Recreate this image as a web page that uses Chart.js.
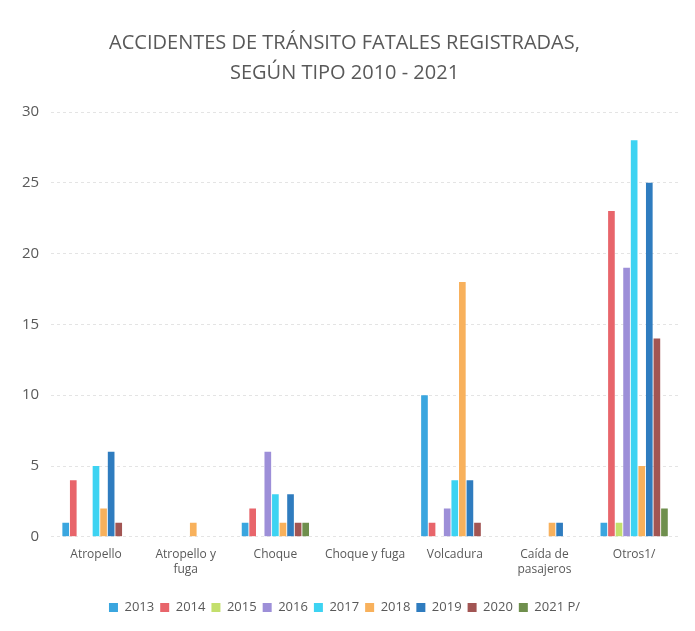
<!DOCTYPE html>
<html>
<head>
<meta charset="utf-8">
<script src="https://cdn.jsdelivr.net/npm/chart.js@4/dist/chart.umd.min.js"></script>
<style>
  html, body { margin: 0; padding: 0; background: #fff; }
  #wrap { width: 695px; height: 631px; }
</style>
</head>
<body>
<div id="wrap"><canvas id="myChart" width="695" height="631"></canvas></div>
<script>
// categories on the x axis
const categories = [
  'Atropello', ['Atropello y', 'fuga'], 'Choque', 'Choque y fuga',
  'Volcadura', ['Caída de', 'pasajeros'], 'Otros1/'
];

// one array per year, same order as categories
const y2013 = [1, 0, 1, 0, 10, 0, 1];
const y2014 = [4, 0, 2, 0, 1, 0, 23];
const y2015 = [0, 0, 0, 0, 0, 0, 1];
const y2016 = [0, 0, 6, 0, 2, 0, 19];
const y2017 = [5, 0, 3, 0, 4, 0, 28];
const y2018 = [2, 1, 1, 0, 18, 1, 5];
const y2019 = [6, 0, 3, 0, 4, 1, 25];
const y2020 = [1, 0, 1, 0, 1, 0, 14];
const y2021 = [0, 0, 1, 0, 0, 0, 2];

const yearLabels = ['2013', '2014', '2015', '2016', '2017', '2018', '2019', '2020', '2021 P/'];
const yearValues = [y2013, y2014, y2015, y2016, y2017, y2018, y2019, y2020, y2021];
const yearColors = ['#3aa6df', '#e8656b', '#c3df6c', '#9d8fd8', '#3dd3f2', '#f8b15c', '#2f7cbf', '#a25553', '#6f8f4d'];

const textGrey = '#595959';
const font = '"Open Sans", sans-serif';

const ctx = document.getElementById('myChart').getContext('2d');
const myChart = new Chart(ctx, {
  type: 'bar',
  data: {
    labels: categories,
    datasets: yearLabels.map((lbl, i) => ({
      label: lbl,
      data: yearValues[i],
      backgroundColor: yearColors[i],
      categoryPercentage: 0.76,
      barPercentage: 0.88
    }))
  },
  options: {
    responsive: false,
    animation: false,
    layout: { padding: { left: 10, right: 16, top: 28, bottom: 7 } },
    plugins: {
      title: {
        display: true,
        text: ['ACCIDENTES DE TRÁNSITO FATALES REGISTRADAS,', 'SEGÚN TIPO 2010 - 2021'],
        color: textGrey,
        font: { family: font, size: 20, weight: 'normal', lineHeight: 1.5 },
        padding: { top: 0, bottom: 24 }
      },
      legend: {
        position: 'bottom',
        // empty legend title only adds a gap above the legend items
        title: { display: true, text: ' ', font: { size: 2 }, padding: { top: 0, bottom: 13 } },
        labels: {
          color: textGrey,
          font: { family: font, size: 13 },
          boxWidth: 9,
          boxHeight: 9,
          padding: 6
        }
      },
      tooltip: { enabled: false }
    },
    scales: {
      x: {
        grid: { display: false },
        border: { display: false },
        ticks: {
          color: textGrey,
          font: { family: font, size: 12 },
          maxRotation: 0,
          autoSkip: false
        }
      },
      y: {
        min: 0,
        max: 30,
        ticks: {
          stepSize: 5,
          color: textGrey,
          font: { family: font, size: 15 },
          padding: 12
        },
        grid: { color: '#e4e4e4', tickLength: 0 },
        border: { display: false, dash: [3, 3] }
      }
    }
  }
});
</script>
</body>
</html>
